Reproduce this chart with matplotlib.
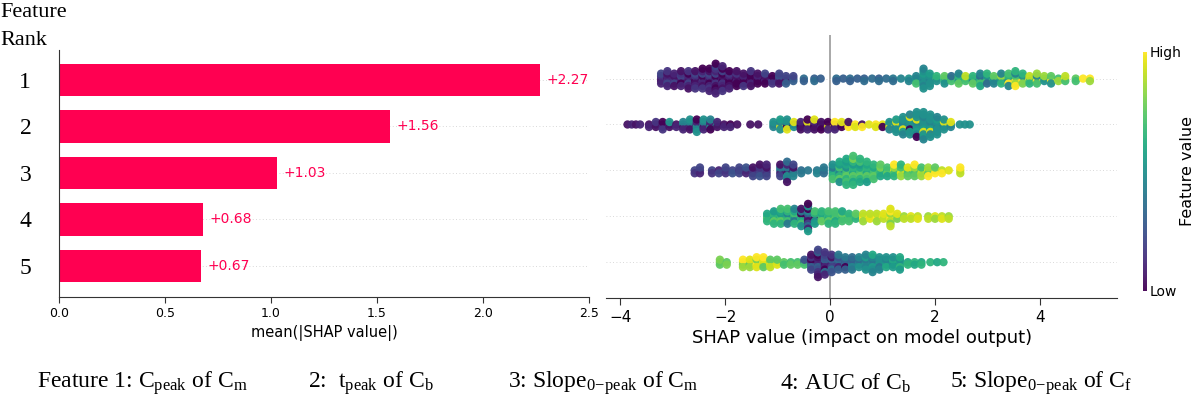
import numpy as np
import matplotlib
matplotlib.use('Agg')
import matplotlib.pyplot as plt

plt.rcParams['mathtext.fontset'] = 'custom'
plt.rcParams['mathtext.rm'] = 'Liberation Serif'
plt.rcParams['mathtext.it'] = 'Liberation Serif:italic'

# --- data -------------------------------------------------------------
ranks = ['1', '2', '3', '4', '5']
mean_abs_shap = [2.27, 1.56, 1.03, 0.68, 0.67]
bar_ticks = [0.0, 0.5, 1.0, 1.5, 2.0, 2.5]
swarm_ticks = [-4, -2, 0, 2, 4]

feature_notes = [
    r'Feature 1: C$_{\mathrm{peak}}$ of C$_{\mathrm{m}}$',
    r'2:  t$_{\mathrm{peak}}$ of C$_{\mathrm{b}}$',
    r'3: Slope$_{\mathrm{0\!-\!peak}}$ of C$_{\mathrm{m}}$',
    r'4: AUC of C$_{\mathrm{b}}$',
    r'5: Slope$_{\mathrm{0\!-\!peak}}$ of C$_{\mathrm{f}}$',
]

# SHAP value of every sample (read off the beeswarm) and its normalised
# feature value (0 = low / purple, 1 = high / yellow); one line per column
shap_1 = [
    -3.22, -3.22, -3.22, -3.22, -3.22,
    -3.10, -3.10, -3.10, -3.10, -3.10, -3.10, -3.10,
    -2.97, -2.97, -2.97, -2.97, -2.97, -2.97,
    -2.84, -2.84, -2.84, -2.84, -2.84, -2.84, -2.84,
    -2.70, -2.70, -2.70, -2.70, -2.70, -2.70, -2.70, -2.70,
    -2.57, -2.57, -2.57, -2.57, -2.57, -2.57, -2.57, -2.57,
    -2.43, -2.43, -2.43, -2.43, -2.43, -2.43, -2.43, -2.43, -2.43,
    -2.30, -2.30, -2.30, -2.30, -2.30, -2.30, -2.30, -2.30, -2.30, -2.30,
    -2.18, -2.18, -2.18, -2.18, -2.18, -2.18, -2.18, -2.18, -2.18, -2.18, -2.18, -2.18, -2.18,
    -2.05, -2.05, -2.05, -2.05, -2.05, -2.05, -2.05, -2.05, -2.05, -2.05, -2.05,
    -1.92, -1.92, -1.92, -1.92, -1.92, -1.92, -1.92, -1.92,
    -1.78, -1.78, -1.78, -1.78, -1.78, -1.78, -1.78,
    -1.65, -1.65, -1.65, -1.65, -1.65, -1.65,
    -1.51, -1.51, -1.51, -1.51, -1.51, -1.51, -1.51,
    -1.38, -1.38, -1.38, -1.38, -1.38,
    -1.24, -1.24, -1.24, -1.24, -1.24,
    -1.10, -1.10, -1.10, -1.10,
    -0.97, -0.97, -0.97, -0.97, -0.97,
    -0.84, -0.84, -0.84, -0.84,
    -0.70, -0.70, -0.70,
    -0.50, -0.50,
    -0.30, -0.30,
    -0.18,
    0.12, 0.12,
    0.25,
    0.38, 0.38,
    0.52,
    0.65, 0.65,
    0.80,
    0.93, 0.93,
    1.07,
    1.20, 1.20,
    1.35,
    1.50, 1.50,
    1.64, 1.64, 1.64, 1.64,
    1.78, 1.78, 1.78, 1.78, 1.78, 1.78, 1.78, 1.78, 1.78,
    1.90, 1.90, 1.90, 1.90, 1.90, 1.90,
    2.03, 2.03, 2.03,
    2.18, 2.18, 2.18, 2.18,
    2.31, 2.31, 2.31,
    2.45, 2.45, 2.45, 2.45, 2.45,
    2.58, 2.58, 2.58,
    2.72, 2.72, 2.72, 2.72,
    2.86, 2.86, 2.86, 2.86, 2.86, 2.86,
    2.99, 2.99, 2.99, 2.99, 2.99,
    3.12, 3.12, 3.12, 3.12,
    3.26, 3.26, 3.26, 3.26, 3.26,
    3.40, 3.40, 3.40, 3.40, 3.40, 3.40,
    3.53, 3.53, 3.53, 3.53, 3.53, 3.53, 3.53,
    3.67, 3.67, 3.67, 3.67, 3.67,
    3.80, 3.80, 3.80, 3.80,
    3.94, 3.94, 3.94, 3.94, 3.94,
    4.08, 4.08, 4.08,
    4.21, 4.21, 4.21, 4.21,
    4.35, 4.35,
    4.48, 4.48, 4.48,
    4.68, 4.68,
    4.82,
    4.95, 4.95,
]
feat_1 = [
    0.1, 0.05, 0.15, 0.1, 0.2,
    0.05, 0.15, 0.1, 0.2, 0.05, 0.1, 0.15,
    0.1, 0.15, 0.05, 0.2, 0.1, 0.05,
    0.05, 0.1, 0.2, 0.0, 0.15, 0.1, 0.05,
    0.15, 0.05, 0.1, 0.2, 0.0, 0.1, 0.15, 0.05,
    0.1, 0.0, 0.15, 0.05, 0.2, 0.1, 0.05, 0.15,
    0.05, 0.15, 0.0, 0.1, 0.2, 0.05, 0.1, 0.15, 0.0,
    0.1, 0.05, 0.15, 0.0, 0.2, 0.1, 0.05, 0.15, 0.0, 0.1,
    0.05, 0.1, 0.0, 0.15, 0.2, 0.05, 0.1, 0.0, 0.15, 0.05, 0.2, 0.1, 0.0,
    0.1, 0.0, 0.05, 0.15, 0.0, 0.1, 0.2, 0.05, 0.0, 0.15, 0.1,
    0.05, 0.0, 0.1, 0.0, 0.15, 0.05, 0.0, 0.1,
    0.0, 0.1, 0.05, 0.0, 0.15, 0.0, 0.05,
    0.05, 0.0, 0.1, 0.0, 0.05, 0.15,
    0.0, 0.05, 0.0, 0.1, 0.0, 0.05, 0.15,
    0.05, 0.0, 0.1, 0.0, 0.05,
    0.0, 0.1, 0.05, 0.0, 0.2,
    0.05, 0.2, 0.0, 0.15,
    0.2, 0.1, 0.25, 0.05, 0.2,
    0.25, 0.05, 0.2, 0.3,
    0.25, 0.3, 0.2,
    0.35, 0.3,
    0.3, 0.35,
    0.3,
    0.35, 0.3,
    0.3,
    0.35, 0.3,
    0.3,
    0.3, 0.35,
    0.35,
    0.3, 0.35,
    0.35,
    0.4, 0.35,
    0.45,
    0.5, 0.45,
    0.5, 0.5, 0.45, 0.7,
    0.5, 0.45, 0.5, 0.5, 0.55, 0.45, 0.5, 0.5, 0.45,
    0.5, 0.45, 0.5, 0.5, 0.55, 0.5,
    0.7, 0.5, 0.65,
    0.7, 0.65, 0.75, 0.5,
    0.65, 0.7, 0.35,
    0.7, 0.5, 0.65, 0.75, 0.45,
    0.65, 0.7, 0.9,
    0.7, 0.45, 0.65, 0.75,
    0.5, 0.65, 0.35, 0.7, 0.45, 0.6,
    0.45, 0.7, 0.5, 0.35, 0.65,
    0.65, 0.5, 0.75, 0.45,
    0.7, 0.5, 0.85, 0.65, 0.45,
    0.75, 0.5, 0.65, 1.0, 0.7, 0.45,
    0.5, 1.0, 0.7, 0.85, 0.45, 1.0, 0.65,
    0.7, 1.0, 0.5, 0.8, 0.65,
    1.0, 0.7, 0.9, 0.65,
    0.75, 1.0, 0.45, 0.7, 0.85,
    0.7, 0.5, 0.85,
    0.65, 1.0, 0.75, 0.5,
    0.7, 0.85,
    1.0, 0.7, 0.9,
    0.75, 0.7,
    1.0,
    1.0, 0.85,
]

shap_2 = [
    -3.86, -3.78, -3.70, -3.62,
    -3.45, -3.45,
    -3.32, -3.32, -3.32,
    -3.19, -3.19, -3.19, -3.19,
    -3.06, -3.06, -3.06,
    -2.93, -2.93,
    -2.80, -2.80, -2.80, -2.80,
    -2.67, -2.67, -2.67, -2.67, -2.67,
    -2.54, -2.54, -2.54, -2.54, -2.54, -2.54,
    -2.41, -2.41, -2.41, -2.41, -2.41,
    -2.28, -2.28, -2.28, -2.28, -2.28,
    -2.15, -2.15, -2.15,
    -2.02, -2.02,
    -1.90, -1.90,
    -1.77, -1.52, -1.37,
    -1.08, -1.08, -1.08,
    -0.95, -0.95, -0.95, -0.95, -0.95,
    -0.82, -0.82, -0.82, -0.82, -0.82,
    -0.69, -0.69, -0.69,
    -0.56, -0.56, -0.56, -0.56,
    -0.43, -0.43, -0.43, -0.43, -0.43,
    -0.30, -0.30, -0.30, -0.30, -0.30,
    -0.17, -0.17, -0.17, -0.17,
    -0.04, -0.04, -0.04, -0.04,
    0.09, 0.09, 0.09, 0.09,
    0.22, 0.22, 0.22,
    0.35, 0.35, 0.35,
    0.48, 0.48,
    0.61, 0.61,
    0.74,
    0.87, 0.87,
    1.00, 1.00,
    1.13, 1.13, 1.13, 1.13,
    1.26, 1.26, 1.26, 1.26, 1.26, 1.26,
    1.39, 1.39, 1.39, 1.39, 1.39, 1.39, 1.39, 1.39,
    1.52, 1.52, 1.52, 1.52, 1.52, 1.52, 1.52, 1.52, 1.52,
    1.65, 1.65, 1.65, 1.65, 1.65, 1.65, 1.65, 1.65, 1.65, 1.65, 1.65,
    1.78, 1.78, 1.78, 1.78, 1.78, 1.78, 1.78, 1.78, 1.78, 1.78, 1.78, 1.78,
    1.91, 1.91, 1.91, 1.91, 1.91, 1.91, 1.91, 1.91, 1.91, 1.91,
    2.04, 2.04, 2.04, 2.04, 2.04, 2.04, 2.04, 2.04,
    2.17, 2.17, 2.17, 2.17, 2.17,
    2.30, 2.30, 2.30,
    2.47, 2.57, 2.66,
]
feat_2 = [
    0.05, 0.1, 0.05, 0.1,
    0.05, 0.1,
    0.1, 0.05, 0.15,
    0.05, 0.1, 0.0, 0.15,
    0.1, 0.05, 0.5,
    0.05, 0.1,
    0.5, 0.05, 0.45, 0.1,
    0.5, 0.1, 0.45, 0.05, 0.5,
    0.05, 0.5, 0.1, 0.45, 0.0, 0.5,
    0.5, 0.05, 0.45, 0.1, 0.5,
    0.05, 0.5, 0.1, 0.0, 0.45,
    0.5, 0.05, 0.1,
    0.05, 0.1,
    0.0, 0.1,
    0.05, 0.05, 0.05,
    0.5, 0.45, 0.5,
    0.5, 0.95, 0.45, 0.5, 0.55,
    0.45, 0.0, 0.5, 0.95, 0.5,
    0.05, 0.5, 0.95,
    0.05, 0.0, 0.1, 0.05,
    0.0, 0.05, 0.95, 0.1, 0.0,
    0.05, 0.0, 0.1, 0.05, 0.95,
    0.0, 0.1, 0.05, 0.0,
    0.05, 0.95, 0.0, 0.1,
    0.0, 0.05, 1.0, 0.1,
    0.05, 0.0, 0.95,
    0.95, 1.0, 0.05,
    1.0, 0.95,
    0.05, 1.0,
    0.95,
    1.0, 0.95,
    0.95, 0.0,
    0.5, 0.95, 0.5, 0.45,
    0.5, 0.45, 0.95, 0.5, 0.55, 0.5,
    0.5, 0.5, 0.45, 0.95, 0.5, 0.55, 0.5, 0.45,
    0.5, 0.45, 0.5, 0.0, 0.5, 0.55, 0.95, 0.5, 0.45,
    0.5, 0.5, 0.45, 0.5, 0.95, 0.55, 0.5, 0.45, 0.5, 0.0, 0.5,
    0.45, 0.5, 0.5, 0.55, 0.5, 0.95, 0.45, 0.5, 0.5, 0.55, 0.5, 0.45,
    0.5, 0.5, 0.45, 0.55, 0.5, 0.95, 0.5, 0.45, 0.5, 0.5,
    0.5, 0.45, 0.5, 0.5, 0.55, 0.5, 0.45, 0.5,
    0.5, 0.45, 0.95, 0.5, 0.5,
    0.5, 0.45, 0.95,
    0.5, 0.5, 0.5,
]

shap_3 = [
    -2.58, -2.58,
    -2.48, -2.48, -2.48,
    -2.25, -2.25,
    -2.12, -2.12,
    -1.99, -1.99, -1.99,
    -1.86, -1.86,
    -1.73, -1.73, -1.73,
    -1.60, -1.60, -1.60,
    -1.47, -1.47, -1.47, -1.47,
    -1.34, -1.34, -1.34, -1.34, -1.34,
    -1.21, -1.21, -1.21, -1.21, -1.21,
    -0.95, -0.95, -0.95, -0.95, -0.95,
    -0.82, -0.82, -0.82, -0.82, -0.82, -0.82, -0.82, -0.82,
    -0.70, -0.70, -0.70, -0.70, -0.70,
    -0.55, -0.55,
    -0.42,
    -0.25, -0.25,
    -0.12, -0.12, -0.12,
    0.05, 0.05, 0.05, 0.05, 0.05, 0.05,
    0.18, 0.18, 0.18, 0.18, 0.18, 0.18, 0.18, 0.18,
    0.31, 0.31, 0.31, 0.31, 0.31, 0.31, 0.31, 0.31, 0.31, 0.31,
    0.44, 0.44, 0.44, 0.44, 0.44, 0.44, 0.44, 0.44, 0.44, 0.44, 0.44,
    0.57, 0.57, 0.57, 0.57, 0.57, 0.57, 0.57, 0.57, 0.57,
    0.70, 0.70, 0.70, 0.70, 0.70, 0.70, 0.70, 0.70,
    0.83, 0.83, 0.83, 0.83, 0.83, 0.83,
    0.96, 0.96, 0.96, 0.96, 0.96,
    1.09, 1.09, 1.09, 1.09,
    1.22, 1.22, 1.22, 1.22, 1.22,
    1.35, 1.35, 1.35, 1.35, 1.35,
    1.48, 1.48, 1.48, 1.48,
    1.61, 1.61, 1.61, 1.61, 1.61,
    1.74, 1.74, 1.74, 1.74,
    1.87, 1.87, 1.87, 1.87,
    2.00, 2.00, 2.00,
    2.13, 2.13,
    2.26,
    2.48, 2.48, 2.48,
]
feat_3 = [
    0.2, 0.15,
    0.2, 0.1, 0.2,
    0.2, 0.15,
    0.1, 0.2,
    0.2, 0.15, 0.2,
    0.2, 0.25,
    0.15, 0.2, 0.2,
    0.2, 0.1, 0.25,
    0.2, 0.15, 0.05, 0.2,
    0.1, 0.2, 0.15, 0.25, 0.05,
    0.2, 0.15, 0.05, 0.2, 0.1,
    0.45, 0.1, 0.4, 0.2, 0.05,
    0.45, 0.05, 0.4, 0.5, 0.1, 0.45, 0.35, 0.05,
    0.1, 0.4, 0.05, 0.45, 0.2,
    0.35, 0.4,
    0.4,
    0.4, 0.45,
    0.45, 0.35, 0.4,
    0.45, 0.6, 0.4, 0.65, 0.5, 0.7,
    0.6, 0.45, 0.7, 0.65, 0.55, 0.75, 0.6, 0.5,
    0.65, 0.7, 0.5, 0.75, 0.6, 0.65, 0.55, 0.7, 0.6, 0.65,
    0.7, 0.6, 0.65, 0.75, 0.55, 0.7, 0.65, 0.6, 0.8, 0.65, 0.7,
    0.65, 0.7, 0.6, 0.75, 0.55, 0.65, 0.7, 0.6, 0.65,
    0.7, 0.6, 0.65, 0.75, 0.6, 0.7, 0.65, 0.55,
    0.65, 0.7, 0.6, 0.75, 0.65, 0.7,
    0.7, 0.65, 0.8, 0.6, 0.75,
    0.65, 0.75, 0.7, 0.6,
    0.95, 0.7, 0.85, 0.65, 1.0,
    0.75, 0.95, 0.7, 0.85, 0.65,
    0.8, 0.7, 0.95, 0.75,
    0.95, 0.7, 0.85, 0.75, 1.0,
    0.75, 0.9, 0.7, 0.85,
    0.95, 0.75, 0.85, 1.0,
    0.85, 1.0, 0.75,
    0.9, 1.0,
    0.95,
    0.95, 0.9, 1.0,
]

shap_4 = [
    -1.20, -1.20, -1.20, -1.20,
    -1.07, -1.07, -1.07, -1.07, -1.07, -1.07,
    -0.94, -0.94, -0.94, -0.94, -0.94, -0.94, -0.94,
    -0.81, -0.81, -0.81, -0.81, -0.81, -0.81, -0.81,
    -0.68, -0.68, -0.68, -0.68, -0.68, -0.68, -0.68,
    -0.55, -0.55, -0.55, -0.55, -0.55, -0.55, -0.55, -0.55,
    -0.42, -0.42, -0.42, -0.42, -0.42, -0.42, -0.42, -0.42, -0.42, -0.42, -0.42, -0.42,
    -0.29, -0.29, -0.29, -0.29, -0.29, -0.29,
    -0.16, -0.16, -0.16, -0.16, -0.16,
    -0.03, -0.03, -0.03, -0.03, -0.03, -0.03,
    0.10, 0.10, 0.10, 0.10, 0.10, 0.10,
    0.23, 0.23, 0.23, 0.23, 0.23,
    0.36, 0.36, 0.36, 0.36,
    0.49, 0.49, 0.49,
    0.63, 0.63, 0.63, 0.63,
    0.76, 0.76, 0.76,
    0.89, 0.89, 0.89, 0.89,
    1.02, 1.02, 1.02,
    1.15, 1.15, 1.15, 1.15, 1.15, 1.15, 1.15, 1.15,
    1.28, 1.28, 1.28,
    1.41, 1.41,
    1.54, 1.54,
    1.67, 1.67,
    1.87, 1.87,
    2.00, 2.00,
    2.13, 2.13,
    2.26, 2.26,
]
feat_4 = [
    0.65, 0.7, 0.6, 0.65,
    0.7, 0.6, 0.65, 0.75, 0.55, 0.65,
    0.65, 0.7, 0.55, 0.75, 0.6, 0.65, 0.7,
    0.6, 0.65, 0.45, 0.7, 0.65, 0.4, 0.7,
    0.65, 0.5, 0.7, 0.4, 0.6, 0.65, 0.45,
    0.45, 0.65, 0.0, 0.6, 0.4, 0.7, 0.05, 0.5,
    0.0, 0.1, 0.3, 0.05, 0.45, 0.2, 0.0, 0.35, 0.5, 0.1, 0.0, 0.55,
    0.6, 0.0, 0.65, 0.5, 0.7, 0.55,
    0.65, 0.7, 0.6, 0.75, 0.65,
    0.7, 0.6, 0.65, 0.75, 0.7, 0.65,
    0.65, 0.75, 0.7, 0.6, 0.7, 0.65,
    0.7, 0.65, 0.75, 0.7, 0.6,
    0.75, 0.7, 0.65, 0.7,
    0.7, 0.65, 0.75,
    0.95, 1.0, 0.9, 0.85,
    1.0, 0.95, 0.9,
    0.95, 1.0, 0.9, 0.85,
    1.0, 0.9, 0.95,
    0.95, 1.0, 0.85, 0.9, 1.0, 0.8, 0.95, 0.9,
    0.9, 0.8, 0.95,
    0.85, 0.9,
    0.95, 0.9,
    0.9, 0.95,
    0.85, 0.9,
    0.95, 0.85,
    0.9, 0.95,
    0.85, 0.9,
]

shap_5 = [
    -2.10, -2.10, -2.10,
    -1.97, -1.97,
    -1.66, -1.66, -1.66, -1.66,
    -1.53, -1.53, -1.53, -1.53,
    -1.40, -1.40, -1.40, -1.40, -1.40,
    -1.27, -1.27, -1.27, -1.27, -1.27,
    -1.14, -1.14, -1.14, -1.14,
    -1.01, -1.01, -1.01,
    -0.88, -0.88,
    -0.75, -0.75,
    -0.62, -0.62,
    -0.49, -0.49, -0.49,
    -0.36, -0.36, -0.36, -0.36, -0.36, -0.36, -0.36,
    -0.23, -0.23, -0.23, -0.23, -0.23, -0.23, -0.23, -0.23, -0.23, -0.23, -0.23, -0.23,
    -0.10, -0.10, -0.10, -0.10, -0.10, -0.10, -0.10, -0.10, -0.10, -0.10,
    0.03, 0.03, 0.03, 0.03, 0.03, 0.03, 0.03, 0.03,
    0.16, 0.16, 0.16, 0.16, 0.16, 0.16, 0.16,
    0.29, 0.29, 0.29, 0.29, 0.29, 0.29,
    0.42, 0.42, 0.42, 0.42, 0.42, 0.42,
    0.55, 0.55, 0.55, 0.55, 0.55,
    0.68, 0.68, 0.68, 0.68, 0.68, 0.68, 0.68,
    0.81, 0.81, 0.81, 0.81, 0.81, 0.81, 0.81, 0.81,
    0.94, 0.94, 0.94, 0.94, 0.94, 0.94,
    1.07, 1.07, 1.07, 1.07, 1.07,
    1.20, 1.20, 1.20, 1.20, 1.20,
    1.33, 1.33, 1.33, 1.33, 1.33, 1.33,
    1.48, 1.48,
    1.61, 1.61,
    1.74, 1.74,
    1.91, 2.04, 2.16,
]
feat_5 = [
    0.8, 0.75, 0.8,
    0.75, 0.8,
    0.95, 0.8, 1.0, 0.85,
    1.0, 0.75, 0.95, 0.85,
    0.95, 1.0, 0.8, 0.95, 1.0,
    1.0, 0.9, 0.95, 0.75, 1.0,
    0.85, 0.95, 0.75, 0.9,
    0.8, 0.95, 0.75,
    0.75, 0.7,
    0.7, 0.75,
    0.7, 0.75,
    0.3, 0.7, 0.25,
    0.1, 0.25, 0.0, 0.3, 0.15, 0.2, 0.05,
    0.0, 0.2, 0.1, 0.3, 0.05, 0.25, 0.0, 0.15, 0.3, 0.1, 0.2, 0.05,
    0.2, 0.05, 0.3, 0.1, 0.25, 0.0, 0.2, 0.35, 0.15, 0.1,
    0.25, 0.1, 0.3, 0.2, 0.05, 0.35, 0.15, 0.25,
    0.3, 0.2, 0.35, 0.1, 0.25, 0.3, 0.4,
    0.25, 0.35, 0.3, 0.0, 0.4, 0.3,
    0.35, 0.4, 0.3, 0.45, 0.35, 0.4,
    0.4, 0.45, 0.35, 0.5, 0.45,
    0.45, 0.5, 0.4, 0.45, 0.55, 0.5, 0.45,
    0.5, 0.45, 0.4, 0.55, 0.45, 0.5, 0.6, 0.45,
    0.45, 0.55, 0.5, 0.4, 0.5, 0.45,
    0.5, 0.55, 0.45, 0.6, 0.5,
    0.55, 0.5, 0.6, 0.55, 0.5,
    0.6, 0.55, 0.5, 0.65, 0.6, 0.55,
    0.6, 0.65,
    0.65, 0.6,
    0.6, 0.65,
    0.65, 0.6, 0.65,
]

swarm_shap = [shap_1, shap_2, shap_3, shap_4, shap_5]
swarm_feat = [feat_1, feat_2, feat_3, feat_4, feat_5]


def swarm_offsets(vals, nbins=100, row_height=0.42):
    """Stack points that fall in the same bin, like the shap beeswarm."""
    vals = np.asarray(vals, dtype=float)
    quant = np.round(nbins * (vals - vals.min()) / (vals.max() - vals.min() + 1e-8))
    order = np.argsort(quant, kind='stable')
    ys = np.zeros(len(vals))
    layer, last_bin = 0, None
    for i in order:
        if quant[i] != last_bin:
            layer = 0
        ys[i] = np.ceil(layer / 2) * ((layer % 2) * 2 - 1)
        layer += 1
        last_bin = quant[i]
    ys *= 0.9 * (row_height / np.max(ys + 1))
    return ys


SHAP_RED = '#ff0051'
fig = plt.figure(figsize=(12, 3.98), dpi=100)

# --- left: mean |SHAP| bars ------------------------------------------
ax1 = fig.add_axes([0.0492, 0.2538, 0.4417, 0.6206])
ypos = np.arange(len(ranks))
for y in ypos:
    ax1.axhline(y, color='#cccccc', lw=0.6, dashes=(1, 3), zorder=-1)
ax1.barh(ypos, mean_abs_shap, height=0.7, color=SHAP_RED, zorder=2)
for y, v in zip(ypos, mean_abs_shap):
    ax1.text(v + 0.03, y, f'+{v:.2f}', color=SHAP_RED, fontsize=10,
             va='center', ha='left')
ax1.set_xlim(0, 2.5)
ax1.set_ylim(4.667, -0.645)
ax1.set_xticks(bar_ticks)
ax1.set_xticklabels([f'{t:.1f}' for t in bar_ticks], fontsize=9)
ax1.set_yticks(ypos)
ax1.set_yticklabels(ranks, fontsize=17, family='Liberation Serif')
ax1.tick_params(axis='y', length=0, pad=20)
ax1.tick_params(axis='x', length=4, width=0.8, color='#333333')
ax1.set_xlabel('mean(|SHAP value|)', fontsize=10.5, labelpad=3)
for side in ['top', 'right']:
    ax1.spines[side].set_visible(False)
ax1.spines['left'].set_color('#333333')
ax1.spines['bottom'].set_color('#333333')

fig.text(0.0, 0.968, 'Feature', fontsize=16, family='Liberation Serif',
         ha='left', va='center')
fig.text(0.0, 0.898, 'Rank', fontsize=16, family='Liberation Serif',
         ha='left', va='center')

# --- right: beeswarm ------------------------------------------------
ax2 = fig.add_axes([0.505, 0.2513, 0.426, 0.6608])
ax2.axvline(0, color='#999999', lw=1.2, zorder=-1)
for row, (sv, fv) in enumerate(zip(swarm_shap, swarm_feat)):
    ax2.axhline(row, color='#cccccc', lw=0.6, dashes=(1, 3), zorder=-1)
    offs = swarm_offsets(sv)
    sc = ax2.scatter(sv, row + offs, c=fv, cmap='viridis', vmin=0, vmax=1,
                     s=36, linewidths=0, alpha=0.95, zorder=3)
ax2.set_xlim(-4.27, 5.47)
ax2.set_ylim(4.78, -0.95)
ax2.set_yticks([])
ax2.set_xticks(swarm_ticks)
ax2.set_xticklabels([f'{t}'.replace('-', '\u2212') for t in swarm_ticks],
                    fontsize=11)
ax2.tick_params(axis='x', length=5, width=0.8, color='#333333')
ax2.set_xlabel('SHAP value (impact on model output)', fontsize=13, labelpad=3)
for side in ['top', 'right', 'left']:
    ax2.spines[side].set_visible(False)
ax2.spines['bottom'].set_color('#333333')

cax = fig.add_axes([0.9525, 0.27, 0.0035, 0.6])
cb = fig.colorbar(sc, cax=cax, ticks=[0, 1])
cb.set_ticklabels(['Low', 'High'])
cb.ax.tick_params(length=0, labelsize=10, pad=2)
cb.outline.set_visible(False)
cb.set_label('Feature value', fontsize=11.5, labelpad=-1)

# --- footnote ----------------------------------------------------------
note_x = [0.031, 0.257, 0.423, 0.65, 0.792]
for x, s in zip(note_x, feature_notes):
    fig.text(x, 0.038, s, fontsize=17, family='Liberation Serif',
             ha='left', va='center')

fig.savefig('out.png', dpi=100)
